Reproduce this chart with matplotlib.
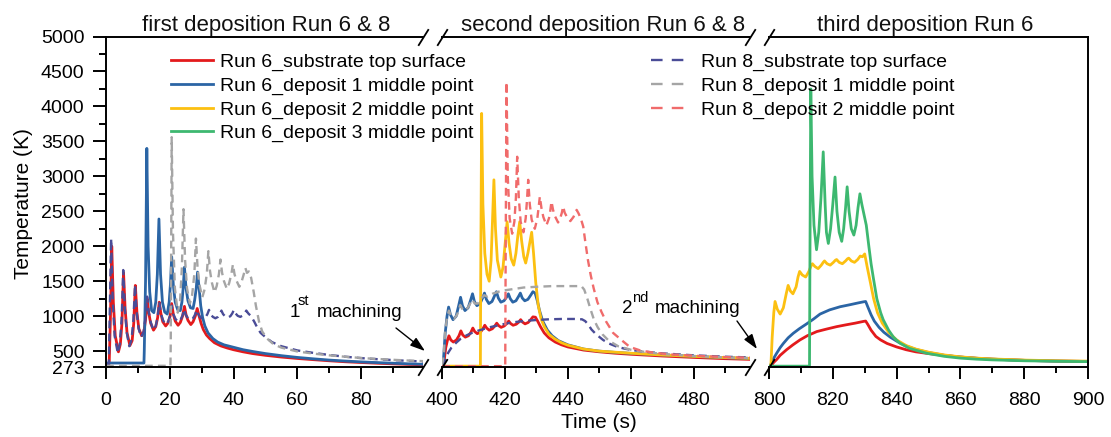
import matplotlib
matplotlib.use('Agg')
import matplotlib.pyplot as plt
from matplotlib.lines import Line2D

plt.rcParams['font.family'] = ['Liberation Sans', 'DejaVu Sans']

# ---------------- data ----------------
# Segment 1 : first deposition (0 - 99 s)
r6_sub_t1 = [0, 1.0, 1.4, 1.8, 2.3, 2.9, 3.9, 4.5, 5.0, 5.5, 6.0, 6.6, 7.5, 8.2, 8.7, 9.2, 9.7, 10.3,
             11.2, 11.9, 12.4, 12.9, 13.4, 14.0, 14.9, 15.6, 16.2, 16.7, 17.2, 17.8, 18.7, 19.4, 20.1,
             20.6, 21.1, 21.7, 22.6, 23.3, 24.0, 24.6, 25.1, 25.7, 26.6, 27.3, 28.0, 28.6, 29.2, 29.8,
             30.5, 31.5, 32.5, 34.0, 36.0, 38.0, 40.0, 43.0, 46.0, 50.0, 55.0, 60.0, 65.0, 70.0, 75.0,
             80.0, 85.0, 90.0, 95.0, 99.4]
r6_sub_T1 = [290, 320, 1000, 2000, 1200, 720, 490, 600, 900, 1620, 1100, 760, 580, 650, 900, 1440, 1050, 820,
             720, 780, 950, 1250, 1050, 900, 800, 850, 980, 1200, 1040, 920, 860, 900, 1000,
             1180, 1030, 930, 870, 910, 1000, 1140, 1020, 940, 880, 920, 1000, 1110, 1000, 900,
             810, 730, 680, 620, 575, 545, 520, 490, 465, 440, 415, 395, 378, 362, 348,
             337, 327, 318, 310, 305]

r6_d1_t1 = [0, 11.9, 12.0, 12.4, 12.8, 13.2, 13.7, 14.3, 15.0, 15.6, 16.1, 16.6, 17.1, 17.7, 18.4, 19.2,
            19.8, 20.2, 20.6, 21.1, 21.7, 22.5, 23.3, 23.8, 24.2, 24.6, 25.1, 25.7, 26.5, 27.3, 27.8,
            28.3, 28.7, 29.2, 29.7, 30.3, 31.0, 32.0, 33.5, 35.0, 37.0, 40.0, 43.0, 46.0, 50.0, 55.0,
            60.0, 65.0, 70.0, 75.0, 80.0, 85.0, 90.0, 95.0, 99.4]
r6_d1_T1 = [330, 330, 500, 1500, 3400, 2000, 1350, 1080, 1050, 1200, 1600, 2390, 1600, 1200, 1060, 1030,
            1200, 1450, 1850, 1450, 1200, 1090, 1080, 1200, 1400, 1700, 1400, 1220, 1120, 1110, 1230,
            1400, 1630, 1400, 1150, 980, 860, 760, 680, 630, 590, 555, 520, 495, 465, 435,
            410, 390, 372, 358, 346, 336, 327, 318, 312]

r8_sub_t1 = [0, 0.9, 1.2, 1.6, 2.1, 2.7, 3.7, 4.3, 4.9, 5.4, 5.9, 6.5, 7.3, 8.0, 8.6, 9.1, 9.6, 10.2, 11.0,
             11.8, 12.4, 12.9, 13.4, 14.0, 14.8, 15.6, 16.2, 16.7, 17.2, 17.9, 18.7, 19.5, 20.1, 20.6,
             21.1, 21.8, 22.6, 23.4, 24.0, 24.5, 25.0, 25.7, 26.5, 27.3, 27.9, 28.4, 28.9, 29.6, 30.4,
             31.2, 31.8, 32.3, 32.8, 33.5, 34.3, 35.1, 35.7, 36.2, 36.7, 37.4, 38.2, 39.0, 39.6, 40.1,
             40.6, 41.3, 42.1, 42.9, 43.5, 44.0, 44.6, 45.5, 46.5, 47.5, 48.5, 50.0, 52.0, 55.0, 60.0,
             65.0, 70.0, 75.0, 80.0, 85.0, 90.0, 95.0, 99.4]
r8_sub_T1 = [290, 320, 1100, 2110, 1250, 720, 470, 600, 950, 1660, 1120, 770, 570, 660, 950, 1450, 1070, 830, 700,
             780, 980, 1280, 1060, 920, 800, 860, 990, 1200, 1040, 940, 880, 920, 1010, 1150,
             1030, 960, 920, 950, 1010, 1100, 1020, 970, 950, 970, 1020, 1090, 1030, 985, 960,
             985, 1030, 1090, 1030, 990, 970, 990, 1030, 1080, 1030, 995, 980, 1000, 1040, 1090,
             1040, 1005, 990, 1010, 1040, 1080, 1040, 1000, 920, 830, 760, 700, 630, 570, 510,
             475, 445, 420, 400, 385, 372, 360, 352]

r8_d1_t1 = [0, 20.2, 20.3, 20.6, 21.0, 21.6, 22.5, 23.2, 23.8, 24.3, 24.8, 25.4, 26.3, 27.0, 27.7, 28.2,
            28.7, 29.3, 30.2, 30.9, 31.6, 32.1, 32.6, 33.2, 34.0, 34.7, 35.4, 35.9, 36.4, 37.0, 37.9,
            38.6, 39.3, 39.8, 40.3, 40.9, 41.8, 42.5, 43.2, 43.7, 44.2, 44.8, 45.5, 46.3, 47.0, 48.0,
            49.0, 50.5, 52.5, 55.0, 60.0, 65.0, 70.0, 75.0, 80.0, 85.0, 90.0, 95.0, 99.4]
r8_d1_T1 = [290, 290, 600, 3560, 2200, 1400, 1050, 1200, 1700, 2530, 1800, 1400, 1180, 1300, 1600, 2110,
            1700, 1450, 1270, 1380, 1600, 1930, 1650, 1480, 1340, 1430, 1600, 1810, 1620, 1500, 1390,
            1470, 1600, 1740, 1600, 1510, 1420, 1490, 1600, 1690, 1620, 1640, 1550, 1350, 1150, 920,
            780, 680, 600, 550, 495, 465, 440, 420, 402, 388, 376, 365, 357]

# Segment 2 : second deposition (400 - 498 s)
r6_sub_t2 = [400.0, 400.6, 401.2, 401.7, 402.2, 402.8, 403.6, 404.6, 405.4, 406.0, 406.6, 407.4, 408.4,
             409.2, 409.8, 410.4, 411.2, 412.2, 413.0, 413.6, 414.2, 415.0, 416.0, 416.8, 417.4, 418.0,
             418.8, 419.8, 420.6, 421.2, 421.8, 422.6, 423.6, 424.4, 425.0, 425.6, 426.4, 427.4, 428.2,
             428.9, 429.7, 430.4, 431.3, 432.5, 434.0, 436.0, 438.0, 440.0, 445.0, 450.0, 455.0, 460.0,
             470.0, 480.0, 490.0, 498.0]
r6_sub_T2 = [290, 330, 550, 650, 720, 660, 630, 660, 720, 790, 730, 700, 720,
             770, 830, 780, 750, 770, 820, 870, 830, 800, 820, 860, 900, 865,
             840, 860, 895, 930, 895, 870, 885, 915, 950, 915, 890, 910, 950,
             990, 985, 930, 850, 760, 690, 630, 590, 560, 515, 490, 470, 455,
             430, 410, 392, 382]

r6_d1_t2 = [400.0, 400.5, 401.0, 401.6, 402.1, 402.7, 403.5, 404.5, 405.3, 405.9, 406.5, 407.3, 408.3,
            409.1, 409.7, 410.3, 411.1, 412.1, 412.9, 413.5, 414.1, 414.9, 415.9, 416.7, 417.3, 417.9,
            418.7, 419.7, 420.5, 421.1, 421.7, 422.5, 423.5, 424.3, 424.9, 425.5, 426.3, 427.3, 428.2,
            428.9, 429.6, 430.3, 431.0, 432.0, 433.5, 435.0, 437.0, 440.0, 445.0, 450.0, 455.0, 460.0,
            470.0, 480.0, 490.0, 498.0]
r6_d1_T2 = [290, 400, 750, 1000, 1130, 1020, 950, 1000, 1150, 1270, 1150, 1080, 1120,
            1230, 1320, 1210, 1150, 1180, 1260, 1330, 1240, 1180, 1210, 1290, 1350, 1260,
            1200, 1220, 1270, 1320, 1250, 1200, 1220, 1280, 1330, 1260, 1220, 1240, 1300,
            1350, 1330, 1220, 1080, 930, 800, 720, 650, 590, 530, 500, 482, 468,
            445, 425, 405, 395]

r6_d2_t2 = [400.0, 412.2, 412.3, 412.6, 413.0, 413.6, 414.3, 415.0, 415.6, 416.0, 416.5, 417.0, 417.6,
            418.7, 419.4, 420.0, 420.7, 421.3, 422.0, 422.8, 423.5, 424.1, 424.7, 425.3, 426.0, 426.6,
            427.3, 427.9, 428.5, 429.1, 429.8, 430.6, 431.5, 432.5, 434.0, 436.0, 438.0, 440.0, 445.0,
            450.0, 455.0, 460.0, 470.0, 480.0, 490.0, 498.0]
r6_d2_T2 = [285, 285, 1500, 3900, 2600, 1900, 1600, 1500, 1800, 2300, 2950, 2250, 1800,
            1560, 1700, 2000, 2350, 2050, 1820, 1730, 1900, 2150, 2350, 2080, 1850, 1760,
            1900, 2050, 2200, 1900, 1480, 1150, 960, 850, 740, 670, 620, 585, 530,
            500, 485, 470, 445, 425, 408, 397]

r8_sub_t2 = [400.0, 400.6, 401.2, 402.0, 403.0, 404.5, 406.0, 408.0, 410.0, 412.0, 415.0, 418.0, 421.0,
             424.0, 427.0, 430.0, 434.0, 438.0, 442.0, 444.5, 445.5, 446.5, 447.5, 449.0, 451.2, 453.0,
             455.5, 458.0, 462.0, 466.0, 470.0, 480.0, 490.0, 498.0]
r8_sub_T2 = [290, 330, 400, 480, 550, 620, 680, 730, 770, 800, 840, 870, 900,
             920, 935, 945, 955, 960, 960, 955, 930, 880, 810, 740, 660, 610,
             565, 535, 505, 485, 468, 440, 420, 410]

r8_d1_t2 = [400.0, 400.5, 401.0, 401.6, 402.2, 402.9, 403.8, 404.8, 405.8, 406.6, 407.6, 408.6, 409.6,
            410.4, 411.4, 412.4, 413.4, 414.4, 416.0, 418.0, 420.0, 423.0, 426.0, 430.0, 435.0, 440.0,
            444.3, 445.2, 446.2, 447.2, 448.3, 449.5, 451.0, 453.0, 456.0, 460.0, 465.0, 470.0, 480.0,
            490.0, 498.0]
r8_d1_T2 = [300, 420, 780, 980, 1080, 1000, 960, 1020, 1160, 1090, 1080, 1150, 1240,
            1180, 1180, 1250, 1300, 1280, 1320, 1350, 1370, 1390, 1410, 1420, 1430, 1430,
            1430, 1380, 1250, 1100, 950, 840, 740, 650, 570, 520, 485, 460, 430,
            410, 400]

r8_d2_t2 = [400.0, 420.1, 420.2, 420.5, 420.9, 421.5, 422.3, 423.0, 423.5, 423.9, 424.4, 425.0, 425.9,
            426.6, 427.0, 427.4, 427.9, 428.5, 429.5, 430.3, 430.7, 431.1, 431.6, 432.2, 433.2, 434.0,
            434.4, 434.8, 435.3, 435.9, 436.9, 437.7, 438.1, 438.5, 439.0, 439.7, 440.8, 441.8, 442.3,
            442.8, 443.4, 444.1, 444.9, 445.5, 446.4, 447.3, 448.2, 449.4, 450.7, 452.2, 454.4, 457.0,
            459.7, 463.0, 467.0, 472.0, 480.0, 490.0, 498.0]
r8_d2_T2 = [285, 285, 1500, 4350, 3000, 2400, 2180, 2350, 2700, 3280, 2700, 2350, 2200,
            2400, 2650, 2950, 2600, 2380, 2250, 2400, 2550, 2710, 2550, 2420, 2300, 2400,
            2500, 2640, 2520, 2430, 2340, 2420, 2480, 2570, 2480, 2420, 2360, 2420, 2470,
            2520, 2470, 2400, 2280, 2080, 1800, 1580, 1400, 1200, 1060, 920, 760, 660,
            560, 510, 480, 455, 435, 415, 405]

# Segment 3 : third deposition (800 - 900 s)
r6_sub_t3 = [800.0, 800.8, 801.5, 802.4, 803.5, 805.5, 807.5, 809.7, 812.0, 815.0, 818.0, 821.2, 824.0,
             827.0, 829.6, 830.3, 831.0, 832.0, 833.5, 835.0, 837.0, 840.0, 843.0, 846.0, 850.0, 855.0,
             860.0, 865.0, 870.0, 880.0, 890.0, 900.0]
r6_sub_T3 = [285, 300, 340, 380, 440, 520, 590, 660, 720, 780, 815, 850, 875,
             900, 925, 930, 880, 800, 710, 660, 610, 560, 520, 490, 465, 438,
             415, 398, 385, 368, 358, 352]

r6_d1_t3 = [800.0, 800.8, 801.5, 802.4, 803.5, 804.5, 806.0, 807.6, 809.5, 811.8, 814.0, 816.0, 819.0,
            822.3, 825.5, 828.0, 829.6, 830.3, 831.0, 832.0, 833.0, 834.5, 836.0, 838.0, 840.5, 843.2,
            846.0, 850.0, 855.0, 860.0, 865.0, 870.0, 880.0, 890.0, 900.0]
r6_d1_T3 = [285, 320, 400, 470, 550, 610, 690, 755, 820, 890, 960, 1030, 1090,
            1135, 1165, 1190, 1205, 1210, 1130, 1020, 930, 840, 770, 700, 630, 570,
            525, 480, 440, 415, 398, 385, 368, 358, 352]

r6_d2_t3 = [800.0, 800.6, 801.0, 801.5, 801.9, 802.6, 803.5, 804.5, 805.4, 806.0, 806.7, 807.5, 808.5,
            809.1, 809.6, 810.4, 811.5, 812.5, 813.1, 813.6, 814.4, 815.4, 816.4, 817.0, 817.4, 818.2,
            819.2, 820.2, 820.8, 821.2, 822.0, 823.0, 824.0, 824.6, 825.0, 825.8, 826.8, 827.8, 828.6,
            829.3, 830.0, 830.8, 831.7, 832.8, 834.0, 835.5, 837.5, 840.0, 843.0, 846.0, 850.0, 855.0,
            860.0, 865.0, 870.0, 880.0, 890.0, 900.0]
r6_d2_T3 = [285, 300, 700, 1050, 1210, 1100, 1030, 1120, 1320, 1440, 1360, 1320, 1420,
            1560, 1640, 1590, 1560, 1640, 1710, 1750, 1710, 1680, 1730, 1770, 1790, 1750,
            1730, 1770, 1800, 1810, 1770, 1750, 1790, 1820, 1830, 1790, 1770, 1810, 1860,
            1850, 1890, 1700, 1500, 1250, 1050, 900, 770, 660, 580, 530, 485, 445,
            418, 400, 388, 372, 362, 357]

r6_d3_t3 = [800.0, 812.7, 812.8, 813.1, 813.5, 814.1, 814.9, 815.6, 816.3, 817.0, 817.6, 818.0, 818.6,
            819.3, 820.0, 820.7, 821.3, 822.0, 822.8, 823.4, 824.0, 824.5, 825.1, 825.8, 826.6, 827.3,
            827.9, 828.5, 829.1, 829.8, 830.5, 831.3, 832.0, 832.7, 833.8, 835.0, 835.8, 837.5, 839.0,
            841.0, 844.0, 849.4, 855.0, 860.0, 865.0, 870.0, 880.0, 890.0, 900.0]
r6_d3_T3 = [285, 285, 1500, 4250, 3000, 2300, 1950, 2200, 2700, 3350, 2600, 2200, 2040,
            2250, 2600, 2990, 2500, 2200, 2070, 2250, 2550, 2850, 2500, 2250, 2160, 2300,
            2550, 2750, 2600, 2450, 2300, 2000, 1750, 1550, 1250, 1050, 950, 800, 700,
            615, 540, 470, 425, 400, 385, 375, 362, 355, 350]

labels_run6 = ['Run 6_substrate top surface', 'Run 6_deposit 1 middle point',
               'Run 6_deposit 2 middle point', 'Run 6_deposit 3 middle point']
labels_run8 = ['Run 8_substrate top surface', 'Run 8_deposit 1 middle point',
               'Run 8_deposit 2 middle point']
seg_titles = ['first deposition Run 6 & 8', 'second deposition Run 6 & 8', 'third deposition Run 6']
yticks = [273, 500, 1000, 1500, 2000, 2500, 3000, 3500, 4000, 4500, 5000]
yminor = [750, 1250, 1750, 2250, 2750, 3250, 3750, 4250, 4750]
xticks = [[0, 20, 40, 60, 80], [400, 420, 440, 460, 480], [800, 820, 840, 860, 880, 900]]
xminor = [[10, 30, 50, 70, 90], [410, 430, 450, 470, 490], [810, 830, 850, 870, 890]]
xlims = [(0, 99.4), (400, 497.9), (800, 900)]

# ---------------- styles ----------------
RED, BLUE, YEL, GRN = '#E31A1C', '#2B65A5', '#FCC011', '#3DB870'
NAVY, GRAY, LRED = '#4A4C97', '#A5A5A5', '#F06B6B'
LW_S, LW_D = 2.0, 1.7
DASH_PLOT = (3.3, 2.2)
DASH_LEG = (4.9, 3.9)

W, H = 1111, 437
fig = plt.figure(figsize=(W / 100, H / 100), dpi=100)
TOP, BOT = 36.5, 367


def box(l, r):
    return [l / W, 1 - BOT / H, (r - l) / W, (BOT - TOP) / H]


ax1 = fig.add_axes(box(106, 423))
ax2 = fig.add_axes(box(442, 750))
ax3 = fig.add_axes(box(769, 1088))
axes = [ax1, ax2, ax3]

# segment 1
ax1.plot(r6_sub_t1, r6_sub_T1, color=RED, lw=LW_S)
ax1.plot(r6_d1_t1, r6_d1_T1, color=BLUE, lw=LW_S)
ax1.plot(r8_sub_t1, r8_sub_T1, color=NAVY, lw=LW_D, dashes=DASH_PLOT)
ax1.plot(r8_d1_t1, r8_d1_T1, color=GRAY, lw=LW_D, dashes=DASH_PLOT)
# segment 2
ax2.plot(r6_sub_t2, r6_sub_T2, color=RED, lw=LW_S)
ax2.plot(r6_d1_t2, r6_d1_T2, color=BLUE, lw=LW_S)
ax2.plot(r6_d2_t2, r6_d2_T2, color=YEL, lw=LW_S)
ax2.plot(r8_sub_t2, r8_sub_T2, color=NAVY, lw=LW_D, dashes=DASH_PLOT)
ax2.plot(r8_d1_t2, r8_d1_T2, color=GRAY, lw=LW_D, dashes=DASH_PLOT)
ax2.plot(r8_d2_t2, r8_d2_T2, color=LRED, lw=LW_D, dashes=DASH_PLOT)
# segment 3
ax3.plot(r6_sub_t3, r6_sub_T3, color=RED, lw=LW_S)
ax3.plot(r6_d1_t3, r6_d1_T3, color=BLUE, lw=LW_S)
ax3.plot(r6_d2_t3, r6_d2_T3, color=YEL, lw=LW_S)
ax3.plot(r6_d3_t3, r6_d3_T3, color=GRN, lw=LW_S)

for i, ax in enumerate(axes):
    ax.set_xlim(*xlims[i])
    ax.set_ylim(273, 5000)
    ax.set_xticks(xticks[i])
    ax.set_xticks(xminor[i], minor=True)
    for s in ax.spines.values():
        s.set_linewidth(1.4)
    ax.tick_params(axis='x', which='major', direction='out', length=8.8, width=1.4,
                   labelsize=14, pad=9)
    ax.tick_params(axis='x', which='minor', direction='out', length=4.4, width=1.4)
    ax.tick_params(axis='y', which='both', right=False)
    if i > 0:
        ax.spines['left'].set_visible(False)
        ax.tick_params(axis='y', which='both', left=False, labelleft=False)
    if i < 2:
        ax.spines['right'].set_visible(False)
    ax.set_yticks(yticks)
    ax.set_yticks(yminor, minor=True)

ax1.set_yticklabels([str(v) for v in yticks])
ax1.tick_params(axis='y', which='major', direction='out', length=9.4, width=1.4, labelsize=14, pad=6)
ax1.tick_params(axis='y', which='minor', direction='out', length=4.7, width=1.4)
for ax in (ax2, ax3):
    ax.set_yticklabels([])

# break marks
kw = dict(marker=[(-1, -1.6), (1, 1.6)], markersize=12, linestyle='none', color='k',
          mec='k', mew=1.3, clip_on=False, zorder=10)
ax1.plot([1, 1], [0, 1], transform=ax1.transAxes, **kw)
ax2.plot([0, 0, 1, 1], [0, 1, 0, 1], transform=ax2.transAxes, **kw)
ax3.plot([0, 0], [0, 1], transform=ax3.transAxes, **kw)


def fp(x, y):
    return (x / W, 1 - y / H)


# segment titles
for title, cx in zip(seg_titles, [266, 603, 925]):
    fig.text(*fp(cx, 31), title, ha='center', va='baseline', fontsize=16, color='#111111')

# axis labels
fig.text(*fp(24, 204), 'Temperature (K)', rotation=90, ha='center', va='center', fontsize=15)
fig.text(*fp(599, 422), 'Time (s)', ha='center', va='center', fontsize=15)

# legends
h6 = [Line2D([], [], color=c, lw=LW_S) for c in (RED, BLUE, YEL, GRN)]
h8 = [Line2D([], [], color=c, lw=LW_D, dashes=DASH_LEG) for c in (NAVY, GRAY, LRED)]
leg_kw = dict(frameon=False, fontsize=14, borderpad=0, borderaxespad=0, labelspacing=0.3,
              loc='upper left')
fig.legend(h6, labels_run6, bbox_to_anchor=fp(171, 53.5), handlelength=2.15, handletextpad=0.35, **leg_kw)
fig.legend(h8, labels_run8, bbox_to_anchor=fp(651, 53.5), handlelength=1.85, handletextpad=0.7, **leg_kw)

# machining annotations
fig.text(*fp(290, 317), '1', fontsize=13.5, va='baseline', ha='left')
fig.text(*fp(297.5, 305), 'st', fontsize=10.5, va='baseline', ha='left')
fig.text(*fp(316.7, 317), 'machining', fontsize=13.5, va='baseline', ha='left')
fig.text(*fp(621.7, 313), '2', fontsize=13.5, va='baseline', ha='left')
fig.text(*fp(632, 302), 'nd', fontsize=10.5, va='baseline', ha='left')
fig.text(*fp(655, 313), 'machining', fontsize=13.5, va='baseline', ha='left')

arrow = dict(arrowstyle='-|>,head_length=0.9,head_width=0.3', color='k', lw=1.0,
             shrinkA=0, shrinkB=0)
ax1.annotate('', xy=fp(425, 351), xycoords='figure fraction', xytext=fp(396, 328),
             textcoords='figure fraction', arrowprops=arrow, annotation_clip=False)
ax2.annotate('', xy=fp(757, 349), xycoords='figure fraction', xytext=fp(737, 321),
             textcoords='figure fraction', arrowprops=arrow, annotation_clip=False)

fig.savefig('out.png', dpi=100)
